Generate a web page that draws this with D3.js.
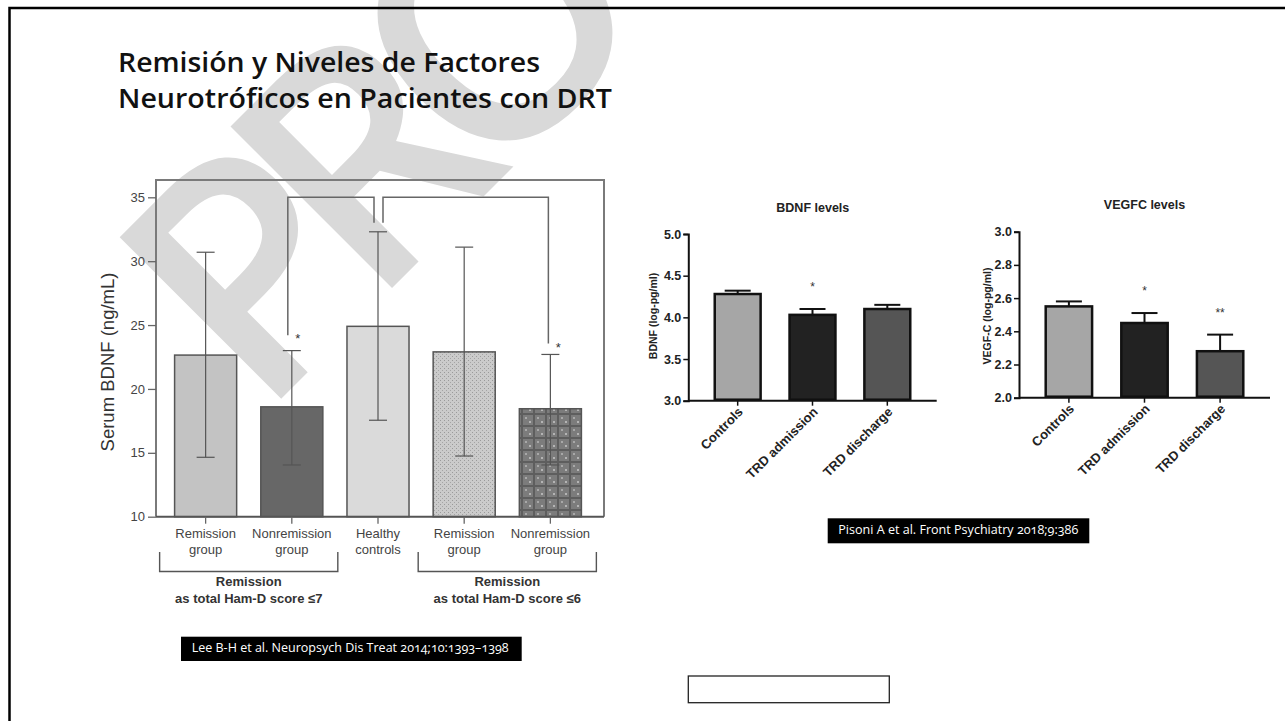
<!doctype html>
<html lang="es">
<head>
<meta charset="utf-8">
<script src="https://d3js.org/d3.v7.min.js"></script>
<title>Remisión y Niveles de Factores Neurotróficos</title>
<style>
  body { margin: 0; background: #fff; overflow: hidden; }
  svg { display: block; }
</style>
</head>
<body>
<svg id="svg1" width="1285" height="721"></svg>
<script>
// ---- Lee B-H et al. 2014 (serum BDNF) ----
const leeKeys = ["rem7", "non7", "hc", "rem6", "non6"];
const leeLabels = [["Remission", "group"], ["Nonremission", "group"], ["Healthy", "controls"], ["Remission", "group"], ["Nonremission", "group"]];
const leeMean = [22.65, 18.6, 24.9, 22.9, 18.45];
const leeHigh = [30.7, 23.0, 32.3, 31.1, 22.7];
const leeLow = [14.65, 14.05, 17.55, 14.75, 14.05];
const leeTicks = [10, 15, 20, 25, 30, 35];
const leeGroupMembers = [["rem7", "non7"], ["rem6", "non6"]];
const leeGroupTitle = ["Remission", "Remission"];
const leeGroupSub = ["as total Ham-D score \u22647", "as total Ham-D score \u22646"];
// significance brackets: [from, to], bracket level, low end values
const leeSigPairs = [["non7", "hc"], ["hc", "non6"]];
const leeSigLevel = 35;
const leeSigEnds = [[24.2, 33.0], [33.0, 23.55]];

// ---- Pisoni A et al. 2018 ----
const pisoniCats = ["Controls", "TRD admission", "TRD discharge"];
const bdnfMean = [4.28, 4.03, 4.10];
const bdnfTop = [4.32, 4.10, 4.15];
const bdnfStars = ["", "*", ""];
const bdnfTicks = [3.0, 3.5, 4.0, 4.5, 5.0];
const vegfMean = [2.55, 2.45, 2.28];
const vegfTop = [2.58, 2.51, 2.38];
const vegfStars = ["", "*", "**"];
const vegfTicks = [2.0, 2.2, 2.4, 2.6, 2.8, 3.0];

let svg = d3.select("#svg1");
const sans = "'Liberation Sans', Arial, sans-serif";
const calibri = "'Open Sans', 'Noto Sans', sans-serif";

function defs() {
  const d = svg.append("defs");
  const sp = d.append("pattern").attr("id", "speck").attr("patternUnits", "userSpaceOnUse")
    .attr("width", 4).attr("height", 4);
  sp.append("rect").attr("width", 4).attr("height", 4).attr("fill", "#cbcbcb");
  sp.append("rect").attr("x", 0).attr("y", 0).attr("width", 1).attr("height", 1).attr("fill", "#9a9a9a");
  sp.append("rect").attr("x", 2).attr("y", 2).attr("width", 1).attr("height", 1).attr("fill", "#a5a5a5");

  const pl = d.append("pattern").attr("id", "plaid").attr("patternUnits", "userSpaceOnUse")
    .attr("width", 12).attr("height", 12);
  pl.append("rect").attr("width", 12).attr("height", 12).attr("fill", "#7c7c7c");
  pl.append("rect").attr("x", 0).attr("y", 5).attr("width", 12).attr("height", 2).attr("fill", "#5e5e5e");
  pl.append("rect").attr("x", 5).attr("y", 0).attr("width", 2).attr("height", 12).attr("fill", "#5e5e5e");
  pl.append("rect").attr("x", 1).attr("y", 1).attr("width", 2).attr("height", 2).attr("fill", "#b4b4b4");
  pl.append("rect").attr("x", 9).attr("y", 9).attr("width", 2).attr("height", 2).attr("fill", "#a8a8a8");
}

function drawWatermark() {
  svg.append("text")
    .attr("transform", "translate(260,420) rotate(-45)")
    .attr("font-family", calibri)
    .attr("font-weight", 600)
    .attr("font-size", 320)
    .attr("letter-spacing", -40)
    .attr("fill", "#d9d9d9")
    .text("PRO");
}

function drawPage() {
  svg.append("rect")
    .attr("x", 9.5).attr("y", 8).attr("width", 1400).attr("height", 800)
    .attr("fill", "none").attr("stroke", "#000").attr("stroke-width", 2.5);

  const t = svg.append("g").attr("font-family", calibri).attr("font-weight", 600)
    .attr("font-size", 27).attr("fill", "#111");
  t.append("text").attr("x", 118).attr("y", 72).attr("textLength", 422)
    .attr("lengthAdjust", "spacingAndGlyphs").text("Remisión y Niveles de Factores");
  t.append("text").attr("x", 118).attr("y", 108).attr("textLength", 494)
    .attr("lengthAdjust", "spacingAndGlyphs").text("Neurotróficos en Pacientes con DRT");

  // citation labels
  const cites = [
    { x: 181, y: 636.7, w: 340.7, h: 24.3, tx: 191.7, ty: 651.7, tl: 317, text: "Lee B-H et al. Neuropsych Dis Treat 2014;10:1393\u20131398" },
    { x: 827.7, y: 518.3, w: 261.6, h: 25, tx: 838.3, ty: 534.3, tl: 240, text: "Pisoni A et al. Front Psychiatry 2018;9:386" }
  ];
  cites.forEach(c => {
    svg.append("rect").attr("x", c.x).attr("y", c.y).attr("width", c.w).attr("height", c.h).attr("fill", "#000");
    svg.append("text").attr("x", c.tx).attr("y", c.ty).attr("font-family", calibri)
      .attr("font-size", 12.5).attr("fill", "#fff").attr("textLength", c.tl)
      .attr("lengthAdjust", "spacingAndGlyphs").style("font-variant-numeric", "oldstyle-nums")
      .text(c.text);
  });

  svg.append("rect").attr("x", 688.3).attr("y", 676).attr("width", 201).attr("height", 26.7)
    .attr("fill", "#fff").attr("stroke", "#222").attr("stroke-width", 1.3);
}

function drawLee() {
  const y = d3.scaleLinear().domain([10, 35]).range([516.7, 197.3]);
  const x = d3.scaleBand().domain(leeKeys).range([174.6, 581.4]).paddingInner(0.28);
  const cx = k => x(k) + x.bandwidth() / 2;
  const left = 156, right = 604;
  const fills = { rem7: "#c3c3c3", non7: "#676767", hc: "#dadada", rem6: "url(#speck)", non6: "url(#plaid)" };
  const g = svg.append("g").attr("font-family", sans);

  // bars
  g.selectAll(".bar").data(leeKeys).join("rect")
    .attr("class", "bar")
    .attr("x", k => x(k)).attr("width", x.bandwidth())
    .attr("y", (k, i) => y(leeMean[i]))
    .attr("height", (k, i) => y(10) - y(leeMean[i]))
    .attr("fill", k => fills[k]).attr("stroke", "#555").attr("stroke-width", 1.5);

  // error bars
  const eb = g.selectAll(".eb").data(leeKeys).join("g").attr("class", "eb")
    .attr("stroke", "#555").attr("stroke-width", 1.2);
  eb.append("line").attr("x1", cx).attr("x2", cx)
    .attr("y1", (k, i) => y(leeHigh[i])).attr("y2", (k, i) => y(leeLow[i]));
  eb.append("line").attr("x1", k => cx(k) - 9).attr("x2", k => cx(k) + 9)
    .attr("y1", (k, i) => y(leeHigh[i])).attr("y2", (k, i) => y(leeHigh[i]));
  eb.append("line").attr("x1", k => cx(k) - 9).attr("x2", k => cx(k) + 9)
    .attr("y1", (k, i) => y(leeLow[i])).attr("y2", (k, i) => y(leeLow[i]));

  // frame
  g.append("path")
    .attr("d", `M${left},${y(10)}V${y(36.35)}H${right}V${y(10)}`)
    .attr("fill", "none").attr("stroke", "#7a7a7a").attr("stroke-width", 2);
  g.append("line").attr("x1", left).attr("x2", right).attr("y1", y(10)).attr("y2", y(10))
    .attr("stroke", "#555").attr("stroke-width", 2);

  const yAxis = g.append("g").attr("transform", `translate(${left},0)`)
    .call(d3.axisLeft(y).tickValues(leeTicks).tickSize(8).tickPadding(3));
  yAxis.select(".domain").remove();
  yAxis.selectAll(".tick line").attr("stroke", "#666").attr("stroke-width", 1.3);
  yAxis.selectAll(".tick text").attr("font-size", 13).attr("fill", "#444").attr("font-family", sans);

  g.append("text")
    .attr("transform", `translate(114,362) rotate(-90)`)
    .attr("text-anchor", "middle").attr("font-size", 18.5).attr("fill", "#333")
    .text("Serum BDNF (ng/mL)");

  // x ticks and labels
  g.selectAll(".xt").data(leeKeys).join("line").attr("class", "xt")
    .attr("x1", cx).attr("x2", cx).attr("y1", y(10)).attr("y2", y(10) + 7)
    .attr("stroke", "#666").attr("stroke-width", 1.3);
  const xl = g.selectAll(".xl").data(leeKeys).join("text").attr("class", "xl")
    .attr("text-anchor", "middle").attr("font-size", 13).attr("fill", "#444");
  xl.append("tspan").attr("x", cx).attr("y", 537.5).text((k, i) => leeLabels[i][0]);
  xl.append("tspan").attr("x", cx).attr("y", 554).text((k, i) => leeLabels[i][1]);

  // group brackets
  leeGroupMembers.forEach((m, i) => {
    const a = cx(m[0]) - 46, b = cx(m[m.length - 1]) + 46, mid = (a + b) / 2;
    g.append("path").attr("d", `M${a},552V571.5H${b}V552`)
      .attr("fill", "none").attr("stroke", "#555").attr("stroke-width", 1.4);
    g.append("text").attr("x", mid).attr("y", 586).attr("text-anchor", "middle")
      .attr("font-size", 13).attr("font-weight", 700).attr("fill", "#333").text(leeGroupTitle[i]);
    g.append("text").attr("x", mid).attr("y", 602.7).attr("text-anchor", "middle")
      .attr("font-size", 13).attr("font-weight", 700).attr("fill", "#333").text(leeGroupSub[i]);
  });

  // significance brackets
  const offs = [[-4, -4], [5, -2]];
  leeSigPairs.forEach((p, i) => {
    const xa = cx(p[0]) + offs[i][0], xb = cx(p[1]) + offs[i][1];
    g.append("path")
      .attr("d", `M${xa},${y(leeSigEnds[i][0])}V${y(leeSigLevel)}H${xb}V${y(leeSigEnds[i][1])}`)
      .attr("fill", "none").attr("stroke", "#666").attr("stroke-width", 1.5);
  });
  // stars next to the low ends (nonremission groups)
  [["non7", 0, 0], ["non6", 1, 1]].forEach(([k, i, j]) => {
    const xs = cx(k) + offs[i][j] + 10;
    g.append("text").attr("x", xs).attr("y", y(leeSigEnds[i][j]) + 8)
      .attr("text-anchor", "middle").attr("font-size", 13).attr("fill", "#333").text("*");
  });
}

function drawPisoni(o) {
  const y = d3.scaleLinear().domain(o.domain).range([o.bottom, o.top]);
  const x = d3.scaleBand().domain(pisoniCats).range([o.left, o.right])
    .paddingInner(0.36).paddingOuter(0.34);
  const cx = c => x(c) + x.bandwidth() / 2;
  const fills = ["#a6a6a6", "#222222", "#555555"];
  const g = svg.append("g").attr("font-family", sans).attr("font-weight", 700);

  g.append("text").attr("x", o.titleX).attr("y", o.titleY).attr("text-anchor", "middle")
    .attr("font-size", 12.5).attr("fill", "#222").text(o.title);

  // error bars (upper only)
  const eb = g.selectAll(".eb").data(pisoniCats).join("g")
    .attr("stroke", "#111").attr("stroke-width", 2);
  eb.append("line").attr("x1", cx).attr("x2", cx)
    .attr("y1", (c, i) => y(o.mean[i])).attr("y2", (c, i) => y(o.top_[i]));
  eb.append("line").attr("x1", c => cx(c) - 13).attr("x2", c => cx(c) + 13)
    .attr("y1", (c, i) => y(o.top_[i])).attr("y2", (c, i) => y(o.top_[i]));

  g.selectAll(".bar").data(pisoniCats).join("rect")
    .attr("x", c => x(c) + 1).attr("width", x.bandwidth() - 2)
    .attr("y", (c, i) => y(o.mean[i]))
    .attr("height", (c, i) => y(o.domain[0]) - y(o.mean[i]) - 1)
    .attr("fill", (c, i) => fills[i]).attr("stroke", "#111").attr("stroke-width", 2.5);

  g.selectAll(".star").data(pisoniCats).join("text")
    .attr("x", cx).attr("y", (c, i) => y(o.top_[i]) - 25 + 7)
    .attr("text-anchor", "middle").attr("font-size", 12).attr("font-weight", 400)
    .attr("fill", "#333").text((c, i) => o.stars[i]);

  const yAxis = g.append("g").attr("transform", `translate(${o.left},0)`)
    .call(d3.axisLeft(y).tickValues(o.ticks).tickSize(5).tickPadding(2).tickFormat(d3.format(".1f")));
  yAxis.select(".domain").attr("stroke", "#111").attr("stroke-width", 2);
  yAxis.selectAll(".tick line").attr("stroke", "#111").attr("stroke-width", 1.5);
  yAxis.selectAll(".tick text").attr("font-size", 12.5).attr("font-weight", 700)
    .attr("fill", "#222").attr("font-family", sans);

  g.append("line").attr("x1", o.left).attr("x2", o.right)
    .attr("y1", y(o.domain[0])).attr("y2", y(o.domain[0]))
    .attr("stroke", "#111").attr("stroke-width", 2);
  g.selectAll(".xt").data(pisoniCats).join("line")
    .attr("x1", cx).attr("x2", cx).attr("y1", y(o.domain[0])).attr("y2", y(o.domain[0]) + 5)
    .attr("stroke", "#111").attr("stroke-width", 1.5);
  g.selectAll(".xl").data(pisoniCats).join("text")
    .attr("transform", c => `translate(${cx(c) + 6},${y(o.domain[0]) + 12}) rotate(-45)`)
    .attr("text-anchor", "end").attr("font-size", 13).attr("fill", "#222").text(c => c);

  g.append("text")
    .attr("transform", `translate(${o.labelX + 4},${o.labelY}) rotate(-90)`)
    .attr("text-anchor", "middle").attr("font-size", 10.5).attr("fill", "#222").text(o.label);
}

defs();
drawWatermark();
drawPage();
drawLee();
drawPisoni({
  domain: [3.0, 5.0], bottom: 400.7, top: 234, left: 688.3, right: 936.7,
  title: "BDNF levels", titleX: 812.8, titleY: 211.7,
  label: "BDNF (log-pg/ml)", labelX: 653.3, labelY: 316,
  mean: bdnfMean, top_: bdnfTop, stars: bdnfStars, ticks: bdnfTicks
});
drawPisoni({
  domain: [2.0, 3.0], bottom: 397.7, top: 231.7, left: 1019, right: 1270,
  title: "VEGFC levels", titleX: 1144.5, titleY: 209.3,
  label: "VEGF-C (log-pg/ml)", labelX: 986.7, labelY: 316,
  mean: vegfMean, top_: vegfTop, stars: vegfStars, ticks: vegfTicks
});
</script>
</body>
</html>
